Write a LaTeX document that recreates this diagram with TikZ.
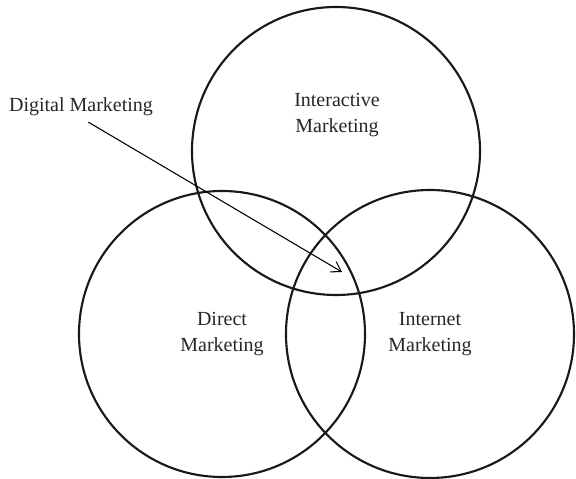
\documentclass[tikz,border=0pt]{standalone}
\usepackage{fontspec}
\setmainfont{Liberation Serif}
\usepackage{tikz}
\usetikzlibrary{calc,arrows.meta}
\tikzset{
	ring/.style={draw=black!90, line width=1.6pt, circle, inner sep=0pt},
	tag/.style={align=center, font=\fontsize{15}{19.5}\selectfont, text=black!85}
}

\begin{document}
\begin{tikzpicture}[x=0.75pt, y=0.75pt]
			%%%%% START %%%%%
			\useasboundingbox (0, 0) rectangle (576, 479);
			
			\node[ring, minimum size=216pt] (inter) at (336, 328) {};
			\node[ring, minimum size=214.5pt] (direct) at (222, 145) {};
			\node[ring, minimum size=216pt] (net) at (430, 145) {};
			
			\node[tag] (intertxt) at (337, 364) {Interactive\\Marketing};
			\node[tag] at (direct) {Direct\\Marketing};
			\node[tag] at (net) {Internet\\Marketing};
			
			\node[tag] (dig) at (81, 372) {Digital Marketing};
			\coordinate (hub) at (342, 207);
			\draw[line width=0.8pt, -{Straight Barb[length=7pt, width=9pt]}] ([xshift=5.5pt, yshift=-1pt]dig.south) -- (hub);
			
			%%%%% END %%%%%
\end{tikzpicture}
\end{document}
